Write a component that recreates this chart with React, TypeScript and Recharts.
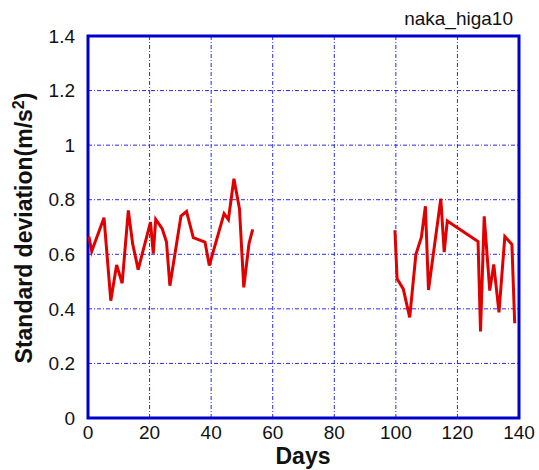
import { LineChart, Line, XAxis, YAxis, CartesianGrid, ReferenceArea } from "recharts";

const daysA = [0.3, 1.2, 5.2, 7.4, 9.3, 11.1, 13.1, 14.5, 16.3, 20.3, 21.2, 22.0, 24.1, 25.5, 26.6, 30.2, 32.0, 34.2, 38.0, 39.4, 44.2, 45.6, 47.4, 49.2, 50.6, 52.3, 53.5];
const sdA = [0.665, 0.611, 0.734, 0.43, 0.561, 0.494, 0.761, 0.639, 0.544, 0.718, 0.602, 0.728, 0.694, 0.645, 0.485, 0.74, 0.757, 0.661, 0.645, 0.559, 0.749, 0.727, 0.877, 0.767, 0.479, 0.639, 0.691];
const daysB = [99.7, 100.4, 102.4, 104.5, 106.5, 108.3, 109.6, 110.6, 114.6, 115.7, 116.7, 126.7, 127.5, 128.7, 130.5, 131.8, 133.5, 135.4, 137.7, 138.6];
const sdB = [0.688, 0.51, 0.473, 0.369, 0.599, 0.663, 0.776, 0.469, 0.804, 0.608, 0.722, 0.647, 0.317, 0.739, 0.467, 0.563, 0.387, 0.665, 0.636, 0.347];

const xTicks = [0, 20, 40, 60, 80, 100, 120, 140];
const yTicks = [0, 0.2, 0.4, 0.6, 0.8, 1, 1.2, 1.4];

const data = [
  ...daysA.map((d, i) => ({ day: d, sd: sdA[i] })),
  { day: 76, sd: null },
  ...daysB.map((d, i) => ({ day: d, sd: sdB[i] })),
];

const font = '"Liberation Sans", Arial, sans-serif';
const blue = "#0000cc";

export default function App() {
  return (
    <div style={{ position: "absolute", left: 0, top: 0, width: 539, height: 470, background: "#fff", fontFamily: font }}>
      <LineChart width={539} height={470} data={data} margin={{ top: 36, right: 20, bottom: 12, left: 28 }}>
        <CartesianGrid stroke="#2a2aee" strokeDasharray="4 2 1 2" strokeWidth={1} />
        <XAxis
          dataKey="day"
          type="number"
          domain={[0, 140]}
          ticks={xTicks}
          height={40}
          tickSize={0}
          tickMargin={8}
          axisLine={false}
          tick={{ fill: "#111", fontSize: 19, fontFamily: font }}
        />
        <YAxis
          type="number"
          domain={[0, 1.4]}
          ticks={yTicks}
          width={60}
          tickSize={0}
          tickMargin={13}
          axisLine={false}
          tick={{ fill: "#111", fontSize: 19, fontFamily: font }}
        />
        <ReferenceArea x1={0} x2={140} y1={0} y2={1.4} fill="none" stroke={blue} strokeWidth={3} strokeOpacity={1} fillOpacity={0} />
        <Line dataKey="sd" stroke="#e00000" strokeWidth={3} dot={false} isAnimationActive={false} />
      </LineChart>
      <div style={{ position: "absolute", right: 26, top: 8, fontSize: 19, color: "#111" }}>naka_higa10</div>
      <div style={{ position: "absolute", left: 0, width: 606, top: 443, textAlign: "center", fontSize: 23, fontWeight: "bold", color: "#111" }}>Days</div>
      <div
        style={{
          position: "absolute",
          left: 24,
          top: 228,
          transform: "translate(-50%, -50%) rotate(-90deg)",
          whiteSpace: "nowrap",
          fontSize: 23,
          fontWeight: "bold",
          color: "#111",
        }}
      >
        Standard deviation(m/s<sup style={{ fontSize: 16 }}>2</sup>)
      </div>
    </div>
  );
}
